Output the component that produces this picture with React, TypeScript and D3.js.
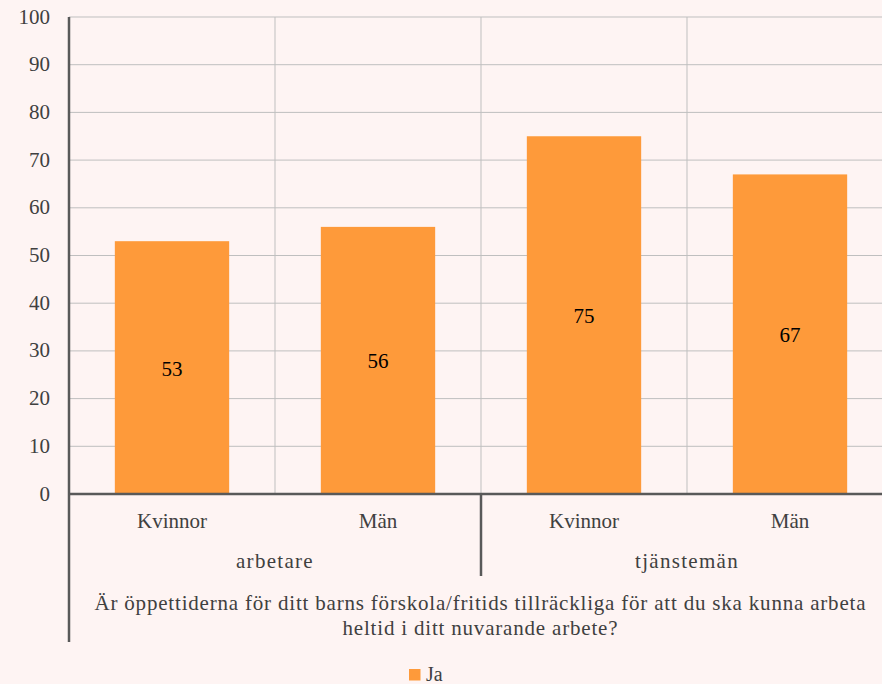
import React from "react";
import * as d3 from "d3";

const groups = ["arbetare", "tjänstemän"];
const subCategories = ["Kvinnor", "Män", "Kvinnor", "Män"];
const groupOfCategory = [0, 0, 1, 1];
const values = [53, 56, 75, 67];
const yTicks = [0, 10, 20, 30, 40, 50, 60, 70, 80, 90, 100];
const titleLines = [
  "Är öppettiderna för ditt barns förskola/fritids tillräckliga för att du ska kunna arbeta",
  "heltid i ditt nuvarande arbete?",
];
const titleWidths = [771, 275];
const seriesName = "Ja";

const W = 882;
const H = 684;
const left = 69;
const right = 893;
const top = 17;
const bottom = 494;
const bg = "#FEF4F3";
const barColor = "#FE9A3A";
const textColor = "#404040";
const font = "Times New Roman";
const fs = 21;

export default function App() {
  const x = d3
    .scaleBand<number>()
    .domain(d3.range(values.length))
    .range([left, right])
    .paddingInner(0.445)
    .paddingOuter(0.2225);
  const step = (right - left) / values.length;
  const y = d3.scaleLinear().domain([0, 100]).range([bottom, top]);
  const ts = { fontFamily: font };

  return (
    <svg
      width={W}
      height={H}
      fontFamily={font}
      style={{ position: "absolute", left: 0, top: 0, display: "block", fontFamily: font }}
    >
      <style>{`text { font-family: "Times New Roman", "Liberation Serif", serif !important; }`}</style>
      <rect x={0} y={0} width={W} height={H} fill={bg} />
      {yTicks.map((t) => (
        <line key={"h" + t} x1={left} x2={right} y1={y(t)} y2={y(t)} stroke="#BFBFBF" strokeWidth={1} />
      ))}
      {d3.range(1, values.length).map((i) => (
        <line
          key={"v" + i}
          x1={left + i * step}
          x2={left + i * step}
          y1={top}
          y2={bottom}
          stroke="#BFBFBF"
          strokeWidth={1}
        />
      ))}
      {values.map((v, i) => (
        <rect
          key={"b" + i}
          x={x(i)}
          y={y(v)}
          width={x.bandwidth()}
          height={bottom - y(v)}
          fill={barColor}
        />
      ))}
      {values.map((v, i) => (
        <text
          key={"l" + i}
          x={(x(i) as number) + x.bandwidth() / 2}
          y={(y(v) + bottom) / 2 + 8}
          textAnchor="middle"
          fontSize={fs}
          fill="#000"
          style={ts}
        >
          {v}
        </text>
      ))}
      {yTicks.map((t) => (
        <text
          key={"t" + t}
          x={50}
          y={y(t) + 6.5}
          textAnchor="end"
          fontSize={fs}
          fill={textColor}
          style={ts}
        >
          {t}
        </text>
      ))}
      <line x1={left} x2={left} y1={top} y2={642} stroke="#595959" strokeWidth={2.5} />
      <line x1={left} x2={right} y1={bottom} y2={bottom} stroke="#595959" strokeWidth={2.5} />
      <line
        x1={left + 2 * step}
        x2={left + 2 * step}
        y1={bottom}
        y2={576}
        stroke="#595959"
        strokeWidth={2.5}
      />
      {subCategories.map((c, i) => (
        <text
          key={"c" + i}
          x={left + (i + 0.5) * step}
          y={528}
          textAnchor="middle"
          fontSize={fs}
          fill={textColor}
          style={ts}
        >
          {c}
        </text>
      ))}
      {groups.map((g, gi) => {
        const idx = groupOfCategory.map((gg, i) => (gg === gi ? i : -1)).filter((i) => i >= 0);
        const cx = left + ((idx[0] + idx[idx.length - 1] + 1) / 2) * step;
        return (
          <text
            key={"g" + gi}
            x={cx}
            y={568}
            textAnchor="middle"
            fontSize={fs}
            letterSpacing={1.3}
            fill={textColor}
            style={ts}
          >
            {g}
          </text>
        );
      })}
      {titleLines.map((l, i) => (
        <text
          key={"tl" + i}
          x={480}
          y={610 + i * 25}
          textAnchor="middle"
          fontSize={fs}
          textLength={titleWidths[i]}
          lengthAdjust="spacing"
          fill={textColor}
          style={ts}
        >
          {l}
        </text>
      ))}
      <rect x={409} y={669} width={11.5} height={11.5} fill={barColor} />
      <text x={426} y={681} fontSize={fs - 1} fill={textColor} style={ts}>
        {seriesName}
      </text>
    </svg>
  );
}
